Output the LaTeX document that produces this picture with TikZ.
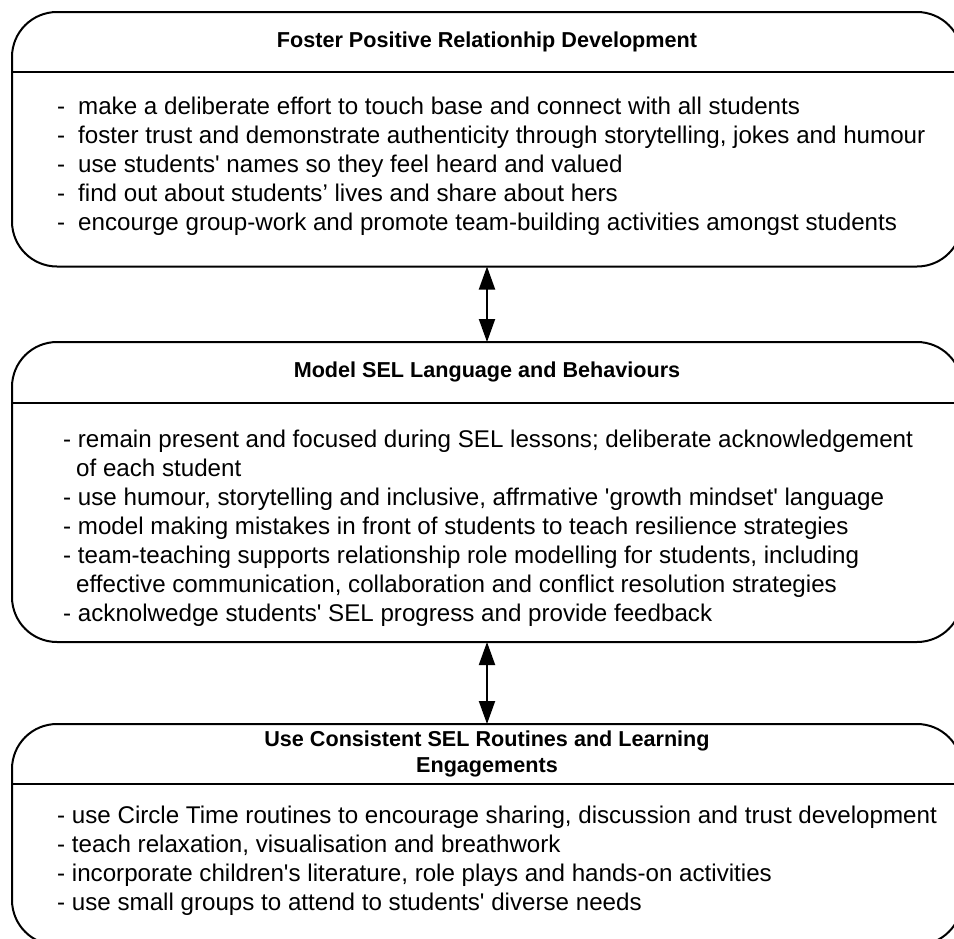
\documentclass[tikz,border=0pt]{standalone}
\usepackage{fontspec}
\setmainfont{Liberation Sans}
\usetikzlibrary{arrows.meta}
\newcommand{\sq}{\textquotesingle}
\tikzset{
  panel/.style={draw, line width=2pt, rounded corners=45pt, minimum width=950pt,
    inner sep=0pt, outer sep=0pt},
  rule/.style={line width=2pt},
  heading/.style={font=\fontsize{21.6}{26}\selectfont\bfseries, anchor=base, inner sep=0pt},
  bodyline/.style={font=\fontsize{24.15}{29}\selectfont, anchor=base west, inner sep=0pt},
  link/.style={line width=2pt,
    {Triangle[width=16pt,length=23pt]}-{Triangle[width=16pt,length=23pt]}},
}
\begin{document}
\begin{tikzpicture}[x=1pt, y=-1pt]
\path[use as bounding box] (0,0) rectangle (954,938);
\clip (0,0) rectangle (954,938);
\fill[white] (0,0) rectangle (954,938);

% panel 1: relationships
\node[panel, minimum height=254.5pt] (box1) at (487,139.25) {};
\draw[rule] (box1.west |- 0,71.5) -- (box1.east |- 0,71.5);
\node[heading] (h1) at (487,47) {Foster Positive Relationhip Development};
\foreach \t [count=\i] in {
  {make a deliberate effort to touch base and connect with all students},
  {foster trust and demonstrate authenticity through storytelling, jokes and humour},
  {use students\sq{} names so they feel heard and valued},
  {find out about students’ lives and share about hers},
  {encourge group-work and promote team-building activities amongst students}}
  \node[bodyline] (a\i) at (57,{114+29*(\i-1)}) {\makebox[21pt][l]{-}\t};

% panel 2: modelling
\node[panel, minimum height=300pt] (box2) at (487,492) {};
\draw[rule] (box2.west |- 0,402.5) -- (box2.east |- 0,402.5);
\node[heading] (h2) at (487,377.5) {Model SEL Language and Behaviours};
\node[bodyline] (b1) at (63,447) {- remain present and focused during SEL lessons; deliberate acknowledgement};
\node[bodyline] (b2) at (76,476) {of each student};
\node[bodyline] (b3) at (63,505) {- use humour, storytelling and inclusive, affrmative \sq{}growth mindset\sq{} language};
\node[bodyline] (b4) at (63,534) {- model making mistakes in front of students to teach resilience strategies};
\node[bodyline] (b5) at (63,563) {- team-teaching supports relationship role modelling for students, including};
\node[bodyline] (b6) at (76,592) {effective communication, collaboration and conflict resolution strategies};
\node[bodyline] (b7) at (63,621) {- acknolwedge students\sq{} SEL progress and provide feedback};

% panel 3: routines
\node[panel, minimum height=221pt] (box3) at (487,834.5) {};
\draw[rule] (box3.west |- 0,784) -- (box3.east |- 0,784);
\node[heading] (h3a) at (487,746.5) {Use Consistent SEL Routines and Learning};
\node[heading] (h3b) at (487,772.5) {Engagements};
\node[bodyline] (c1) at (57,823) {- use Circle Time routines to encourage sharing, discussion and trust development};
\node[bodyline] (c2) at (57,852) {- teach relaxation, visualisation and breathwork};
\node[bodyline] (c3) at (57,881) {- incorporate children\sq{}s literature, role plays and hands-on activities};
\node[bodyline] (c4) at (57,910) {- use small groups to attend to students\sq{} diverse needs};

% two-way links between panels
\draw[link] (box1.south) -- (box2.north);
\draw[link] (box2.south) -- (box3.north);
\end{tikzpicture}
\end{document}
